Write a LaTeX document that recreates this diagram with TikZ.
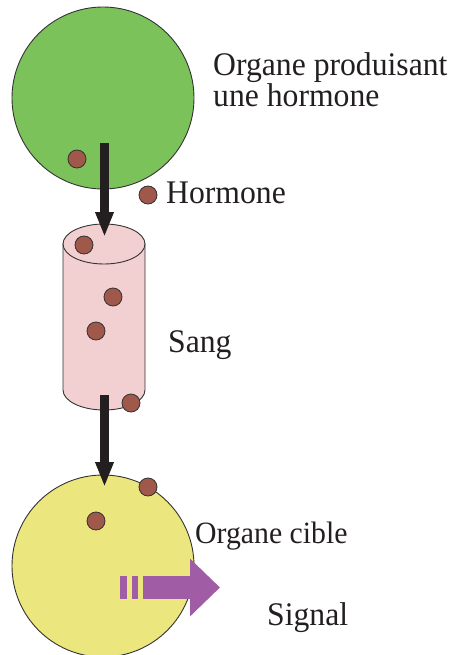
\documentclass[tikz,border=0pt]{standalone}
\usepackage{fontspec}
\setmainfont{Liberation Serif}[FakeStretch=0.96]
\usetikzlibrary{arrows.meta}
\definecolor{organgreen}{HTML}{7CC25A}
\definecolor{targetyellow}{HTML}{EBE67E}
\definecolor{bloodpink}{HTML}{F2CFD0}
\definecolor{hormbrown}{HTML}{A0584A}
\definecolor{signalpurple}{HTML}{A05DA5}
\definecolor{outlinegray}{HTML}{333333}
\definecolor{arrowblack}{HTML}{231F20}
\definecolor{textblack}{HTML}{231F20}
\begin{document}
\begin{tikzpicture}[x=1pt,y=-1pt,
  outl/.style={draw=outlinegray, line width=0.9pt},
  organ/.style={circle, outl, minimum size=182pt, inner sep=0pt},
  hdot/.style={circle, draw=outlinegray, line width=0.8pt, fill=hormbrown, minimum size=18pt, inner sep=0pt},
  lbl/.style={anchor=base west, inner sep=0pt, font=\fontsize{33}{31}\selectfont, text=textblack},
  flow/.style={line width=9pt, draw=arrowblack, -{Triangle[width=17pt,length=25pt]}},
  sigarrow/.style={line width=23pt, draw=signalpurple, -{Triangle[width=56pt,length=30pt]}},
  sigbar/.style={fill=signalpurple}
  ]
\useasboundingbox (0,0) rectangle (454,655);
% organs
\node[organ, fill=organgreen] (src) at (103,98) {};
\node[organ, fill=targetyellow] (tgt) at (103,566) {};
% blood vessel (cylinder)
\coordinate (cyltop) at (104,244);
\coordinate (cylbot) at (104,390);
\filldraw[outl, fill=bloodpink] (63,244) -- (63,390)
  arc[start angle=180, end angle=360, x radius=41pt, y radius=20pt]
  -- (145,244) -- cycle;
\filldraw[outl, fill=bloodpink] (cyltop) ellipse [x radius=41pt, y radius=20pt];
% hormone dots
\node[hdot] (d1) at (77,159) {};
\node[hdot] (d2) at (148,195) {};
\node[hdot] (d3) at (84,245) {};
\node[hdot] (d4) at (113,297) {};
\node[hdot] (d5) at (96,331) {};
\node[hdot] (d6) at (131,403) {};
\node[hdot] (d7) at (148,487) {};
\node[hdot] (d8) at (96,521) {};
% flow arrows
\coordinate (a1s) at (104.5,143);
\coordinate (a1e) at (104.5,237);
\coordinate (a2s) at (104.5,395);
\coordinate (a2e) at (104.5,487);
\draw[flow] (a1s) -- (a1e);
\draw[flow] (a2s) -- (a2e);
% signal arrow
\fill[sigbar] (120,576) rectangle (127,599);
\fill[sigbar] (132,576) rectangle (138,599);
\coordinate (ss) at (143,587.5);
\coordinate (se) at (220,587.5);
\draw[sigarrow] (ss) -- (se);
% labels
\node[lbl] (t1) at (213,76) {Organe produisant};
\node[lbl] (t2) at (213,107) {une hormone};
\node[lbl] (t3) at (166,203) {Hormone};
\node[lbl] (t4) at (168,352) {Sang};
\node[lbl, font=\fontsize{31}{31}\selectfont] (t5) at (195,543) {Organe cible};
\node[lbl] (t6) at (267,625) {Signal};
\end{tikzpicture}
\end{document}
